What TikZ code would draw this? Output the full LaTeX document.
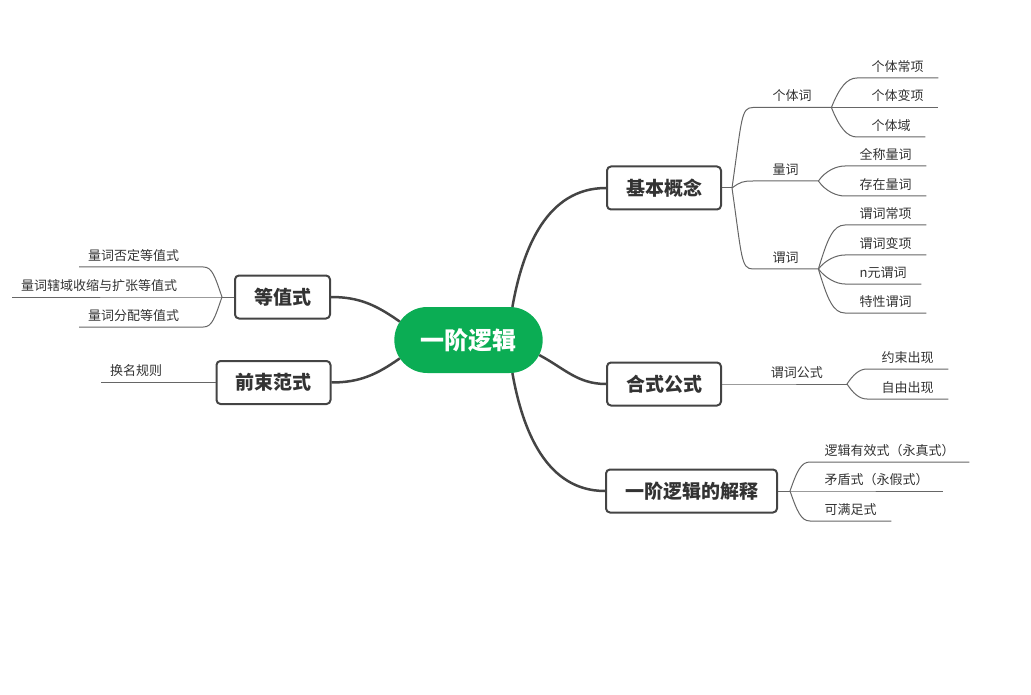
\documentclass[tikz,border=0pt]{standalone}
\usepackage{fontspec}
\setmainfont{Noto Sans CJK SC}
\usetikzlibrary{shapes.misc}
\definecolor{rootgreen}{HTML}{0BAD54}
\definecolor{linedark}{HTML}{444444}
\definecolor{linethin}{HTML}{666666}
\definecolor{txt}{HTML}{333333}

\begin{document}
\begin{tikzpicture}[x=1pt, y=1pt,
  root/.style={rounded rectangle, fill=rootgreen, text=white, font=\fontsize{24}{28}\selectfont\bfseries, minimum width=155pt, minimum height=66pt},
  topic/.style={draw=linedark, line width=2pt, rounded corners=4pt, fill=white, text=txt, font=\fontsize{19}{22}\selectfont\bfseries, minimum height=43pt, inner xsep=19pt},
  mid/.style={anchor=south west, text=txt, font=\fontsize{13}{15}\selectfont, text depth=1.6pt, inner ysep=5pt, inner xsep=19.5pt},
  leaf/.style={mid, inner xsep=14.5pt},
  lleaf/.style={mid, inner xsep=9pt},
  trunk/.style={draw=linedark, line width=2.5pt},
  twig/.style={draw=linethin, line width=1pt}]
\useasboundingbox (0,0) rectangle (1031,-695);

% main topics
\node[root] (root) at (468.5,-340) {一阶逻辑};
\node[topic] (jbgn) at (664,-188) {基本概念};
\node[topic] (hsgs) at (664,-384) {合式公式};
\node[topic] (jsjs) at (691.5,-491) {一阶逻辑的解释};
\node[topic] (dzs) at (282.5,-297) {等值式};
\node[topic] (qsfs) at (273.5,-382.5) {前束范式};

\draw[trunk] (root.37) to[out=80,in=180] (jbgn.west);
\draw[trunk] (root.-12) to[out=-28,in=180] (hsgs.west);
\draw[trunk] (root.-37) to[out=-80,in=180] (jsjs.west);
\draw[trunk] (root.165) to[out=145,in=0] (dzs.east);
\draw[trunk] (root.195) to[out=-145,in=0] (qsfs.east);

% 基本概念
\coordinate (fk-jb) at ([xshift=10pt]jbgn.east);
\node[mid] (gtc) at (753,-107.5) {个体词};
\node[mid] (lc) at (753,-181) {量词};
\node[mid] (wc) at (753,-269) {谓词};
\draw[twig] (jbgn.east) -- (fk-jb);
\draw[twig] (fk-jb) .. controls +(10,70) and +(-12,0) .. (gtc.south west) -- (gtc.south east);
\draw[twig] (fk-jb) .. controls +(8,6) and +(-10,0) .. (lc.south west) -- (lc.south east);
\draw[twig] (fk-jb) .. controls +(10,-70) and +(-12,0) .. (wc.south west) -- (wc.south east);

\node[leaf] (gtcx) at (857,-78) {个体常项};
\node[leaf] (gtbx) at (857,-107.5) {个体变项};
\node[leaf] (gty) at (857,-137) {个体域};
\draw[twig] (gtc.south east) .. controls +(8,20) and +(-10,0) .. (gtcx.south west) -- (gtcx.south east);
\draw[twig] (gtc.south east) -- (gtbx.south west) -- (gtbx.south east);
\draw[twig] (gtc.south east) .. controls +(8,-20) and +(-10,0) .. (gty.south west) -- (gty.south east);

\node[leaf] (qclc) at (845,-166) {全称量词};
\node[leaf] (czlc) at (845,-196) {存在量词};
\draw[twig] (lc.south east) .. controls +(7,10) and +(-9,0) .. (qclc.south west) -- (qclc.south east);
\draw[twig] (lc.south east) .. controls +(7,-10) and +(-9,0) .. (czlc.south west) -- (czlc.south east);

\node[leaf] (wccx) at (845,-225) {谓词常项};
\node[leaf] (wcbx) at (845,-255) {谓词变项};
\node[leaf] (nywc) at (845,-284) {n元谓词};
\node[leaf] (txwc) at (845,-313) {特性谓词};
\draw[twig] (wc.south east) .. controls +(9,30) and +(-12,0) .. (wccx.south west) -- (wccx.south east);
\draw[twig] (wc.south east) .. controls +(7,9) and +(-9,0) .. (wcbx.south west) -- (wcbx.south east);
\draw[twig] (wc.south east) .. controls +(7,-9) and +(-9,0) .. (nywc.south west) -- (nywc.south east);
\draw[twig] (wc.south east) .. controls +(9,-30) and +(-12,0) .. (txwc.south west) -- (txwc.south east);

% 合式公式
\node[mid, anchor=south east, inner xsep=24pt] (wcgs) at (847,-384) {谓词公式};
\draw[twig] (hsgs.east) -- (wcgs.south west) -- (wcgs.south east);
\node[leaf] (yscx) at (867,-369) {约束出现};
\node[leaf] (zycx) at (867,-399) {自由出现};
\draw[twig] (wcgs.south east) .. controls +(6,9) and +(-8,0) .. (yscx.south west) -- (yscx.south east);
\draw[twig] (wcgs.south east) .. controls +(6,-9) and +(-8,0) .. (zycx.south west) -- (zycx.south east);

% 一阶逻辑的解释
\coordinate (fk-js) at ([xshift=12pt]jsjs.east);
\node[leaf] (ljyx) at (810,-462) {逻辑有效式（永真式）};
\node[leaf] (mds) at (810,-491) {矛盾式（永假式）};
\node[leaf] (kmz) at (810,-521) {可满足式};
\draw[twig] (jsjs.east) -- (fk-js);
\draw[twig] (fk-js) .. controls +(7,20) and +(-9,0) .. (ljyx.south west) -- (ljyx.south east);
\draw[twig] (fk-js) -- (mds.south west) -- (mds.south east);
\draw[twig] (fk-js) .. controls +(7,-20) and +(-9,0) .. (kmz.south west) -- (kmz.south east);

% 等值式
\coordinate (fk-dz) at ([xshift=-12pt]dzs.west);
\node[lleaf] (lcfd) at (79,-267) {量词否定等值式};
\node[lleaf] (lcxy) at (12,-297) {量词辖域收缩与扩张等值式};
\node[lleaf] (lcfp) at (79,-327) {量词分配等值式};
\draw[twig] (dzs.west) -- (fk-dz);
\draw[twig] (fk-dz) .. controls +(-7,20) and +(9,0) .. ([xshift=15pt]lcfd.south east) -- (lcfd.south west);
\draw[twig] (fk-dz) -- (lcxy.south east) -- (lcxy.south west);
\draw[twig] (fk-dz) .. controls +(-7,-20) and +(9,0) .. ([xshift=15pt]lcfp.south east) -- (lcfp.south west);

% 前束范式
\node[lleaf] (hmgz) at (101,-382.5) {换名规则};
\draw[twig] (qsfs.west) -- (hmgz.south east) -- (hmgz.south west);
\end{tikzpicture}
\end{document}
